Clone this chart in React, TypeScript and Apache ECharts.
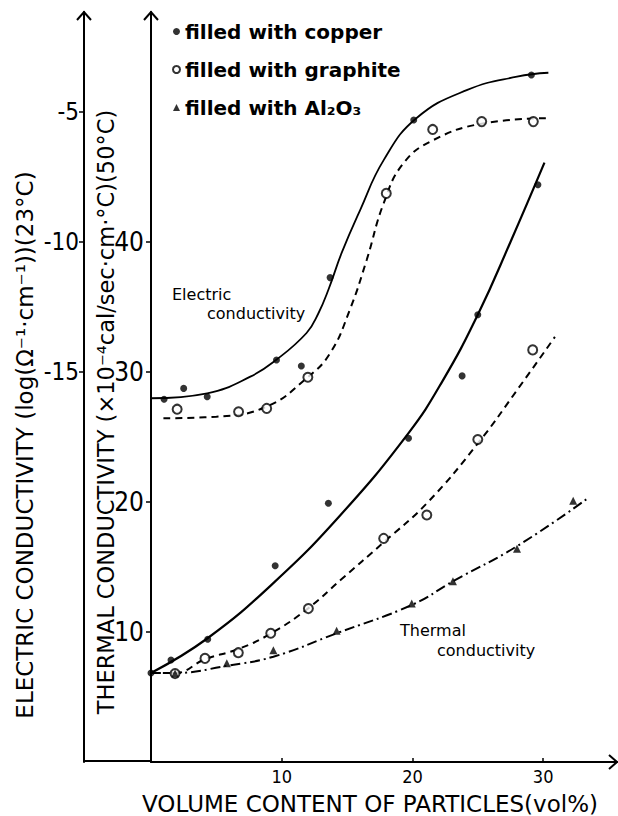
import React, { useEffect, useRef } from 'react';
import * as echarts from 'echarts';

// ---- tick labels ----
const xTicks = [10, 20, 30];
const thermalTicks = [10, 20, 30, 40];
const electricTicks = [-15, -10, -5];

// ---- measured points: electric conductivity (log) ----
const copperElecX = [1.0, 2.5, 4.3, 9.6, 11.5, 13.7, 20.1, 29.1];
const copperElecY = [-16.05, -15.63, -15.95, -14.54, -14.77, -11.37, -5.31, -3.58];
const graphiteElecX = [2.0, 6.7, 8.85, 12.0, 18.0, 21.55, 25.3, 29.25];
const graphiteElecY = [-16.43, -16.53, -16.4, -15.2, -8.13, -5.67, -5.37, -5.37];

// ---- measured points: thermal conductivity ----
const copperThermX = [0, 1.53, 4.34, 9.5, 13.57, 19.7, 23.8, 25.0, 29.6];
const copperThermY = [6.85, 7.85, 9.44, 15.1, 19.9, 24.9, 29.7, 34.4, 44.4];
const graphiteThermX = [1.84, 4.13, 6.68, 9.16, 12.04, 17.8, 21.1, 25.0, 29.2];
const graphiteThermY = [6.8, 7.97, 8.41, 9.9, 11.8, 17.2, 19.0, 24.8, 31.7];
const aluminaThermX = [1.84, 5.8, 9.36, 14.2, 19.95, 23.1, 28.0, 32.3];
const aluminaThermY = [6.8, 7.6, 8.6, 10.1, 12.2, 13.9, 16.4, 20.1];

// ---- hand-drawn fit curves ----
const copperElecFitX = [0, 4.3, 7.6, 9.56, 11.9, 12.8, 13.6, 14.6, 16.0, 17.8, 20.3, 24.2, 28.0, 30.4];
const copperElecFitY = [-16.01, -15.82, -15.18, -14.54, -13.5, -12.75, -11.8, -10.4, -8.77, -6.85, -5.24, -4.15, -3.64, -3.49];
const graphiteElecFitX = [0.95, 5.0, 8.85, 11.9, 13.7, 15.2, 16.5, 17.8, 19.3, 21.6, 25.4, 30.3];
const graphiteElecFitY = [-16.78, -16.72, -16.33, -15.24, -14.28, -12.62, -10.69, -8.51, -6.98, -6.08, -5.44, -5.24];
const copperThermFitX = [0, 4.3, 9.4, 14.5, 19.7, 22.3, 25.0, 27.5, 30.1];
const copperThermFitY = [6.85, 9.5, 13.8, 19.0, 25.3, 29.3, 34.4, 40.0, 46.1];
const graphiteThermFitX = [0, 1.84, 4.13, 6.7, 9.2, 12.0, 14.5, 17.8, 21.1, 25.0, 28.0, 30.9];
const graphiteThermFitY = [6.85, 6.85, 7.9, 8.7, 9.9, 11.8, 14.0, 16.9, 19.9, 24.5, 28.6, 32.7];
const aluminaThermFitX = [0, 1.84, 5.8, 9.36, 14.2, 20.0, 23.1, 28.0, 33.3];
const aluminaThermFitY = [6.85, 6.85, 7.4, 8.1, 9.9, 12.1, 13.9, 16.6, 20.2];

const COPPER = 'filled with copper';
const GRAPHITE = 'filled with graphite';
const ALUMINA = 'filled with Al₂O₃';

const pairs = (xs: number[], ys: number[]) => xs.map((x, i) => [x, ys[i]]);

const TICK_FONT = '"Liberation Sans Narrow", "DejaVu Sans Condensed", "Liberation Sans", sans-serif';
const TITLE_FONT = '"DejaVu Sans", sans-serif';

export default function App() {
  const ref = useRef<HTMLDivElement>(null);

  useEffect(() => {
    const chart = echarts.init(ref.current!, null, { renderer: 'svg' });
    const black = '#000';
    const axisLine = { onZero: false, lineStyle: { color: black, width: 2 } };

    const fitLine = (name: string, xs: number[], ys: number[], yAxisIndex: number, type: any, width = 2) => ({
      name,
      type: 'line',
      yAxisIndex,
      data: pairs(xs, ys),
      symbol: 'none',
      smooth: 0.45,
      silent: true,
      z: 1,
      lineStyle: { color: black, width, type },
    });

    chart.setOption({
      animation: false,
      backgroundColor: '#fff',
      textStyle: { fontFamily: TITLE_FONT, color: black },
      grid: { left: 151, top: 12, width: 466, height: 750, outerBoundsMode: 'none' },
      legend: {
        orient: 'vertical',
        left: 172,
        top: 21,
        padding: 0,
        itemWidth: 7,
        itemHeight: 7,
        itemGap: 17,
        selectedMode: false,
        textStyle: { fontFamily: TITLE_FONT, fontSize: 20, fontWeight: 'bold', color: black, lineHeight: 21 },
        data: [
          { name: COPPER, icon: 'circle' },
          { name: GRAPHITE, icon: 'emptyCircle' },
          { name: ALUMINA, icon: 'triangle' },
        ],
      },
      xAxis: {
        type: 'value',
        min: 0,
        max: 35.65,
        interval: 10,
        axisLine,
        axisTick: { inside: true, length: 4, customValues: xTicks, lineStyle: { color: black, width: 1.5 } },
        axisLabel: { customValues: xTicks, color: black, fontSize: 18, lineHeight: 18, fontFamily: TICK_FONT, margin: 5 },
        splitLine: { show: false },
      },
      yAxis: [
        {
          type: 'value',
          position: 'left',
          min: 0,
          max: 57.69,
          interval: 10,
          axisLine,
          axisTick: { length: 5, customValues: thermalTicks, lineStyle: { color: black, width: 1.5 } },
          axisLabel: { customValues: thermalTicks, color: black, fontSize: 26, fontFamily: TICK_FONT, margin: 7 },
          splitLine: { show: false },
        },
        {
          type: 'value',
          position: 'left',
          offset: 67,
          min: -30,
          max: -1.154,
          axisLine,
          axisTick: { length: 5, customValues: electricTicks, lineStyle: { color: black, width: 1.5 } },
          axisLabel: { customValues: electricTicks, color: black, fontSize: 24, fontFamily: TICK_FONT, margin: 5 },
          splitLine: { show: false },
        },
      ],
      series: [
        fitLine('copper electric fit', copperElecFitX, copperElecFitY, 1, 'solid', 1.8),
        fitLine('graphite electric fit', graphiteElecFitX, graphiteElecFitY, 1, [7, 5]),
        fitLine('copper thermal fit', copperThermFitX, copperThermFitY, 0, 'solid', 2.2),
        fitLine('graphite thermal fit', graphiteThermFitX, graphiteThermFitY, 0, [7, 5]),
        fitLine('alumina thermal fit', aluminaThermFitX, aluminaThermFitY, 0, [10, 4, 2, 4]),
        {
          name: COPPER, type: 'scatter', yAxisIndex: 1, data: pairs(copperElecX, copperElecY),
          symbol: 'circle', symbolSize: 7, itemStyle: { color: black }, z: 3,
        },
        {
          name: GRAPHITE, type: 'scatter', yAxisIndex: 1, data: pairs(graphiteElecX, graphiteElecY),
          symbol: 'emptyCircle', symbolSize: 9, itemStyle: { color: black, borderWidth: 2 }, z: 3,
        },
        {
          name: COPPER, type: 'scatter', yAxisIndex: 0, data: pairs(copperThermX, copperThermY),
          symbol: 'circle', symbolSize: 7, itemStyle: { color: black }, z: 3,
        },
        {
          name: GRAPHITE, type: 'scatter', yAxisIndex: 0, data: pairs(graphiteThermX, graphiteThermY),
          symbol: 'emptyCircle', symbolSize: 9, itemStyle: { color: black, borderWidth: 2 }, z: 3,
        },
        {
          name: ALUMINA, type: 'scatter', yAxisIndex: 0, data: pairs(aluminaThermX, aluminaThermY),
          symbol: 'triangle', symbolSize: 8, itemStyle: { color: black }, z: 3,
        },
      ],
      graphic: [
        // axis arrows (open V heads)
        { type: 'polyline', shape: { points: [[77, 20], [84, 12], [91, 20]] }, style: { stroke: black, lineWidth: 2, fill: 'none' } },
        { type: 'polyline', shape: { points: [[144, 20], [151, 12], [158, 20]] }, style: { stroke: black, lineWidth: 2, fill: 'none' } },
        { type: 'polyline', shape: { points: [[609, 755], [617, 762], [609, 769]] }, style: { stroke: black, lineWidth: 2, fill: 'none' } },
        // connector between the two vertical axes
        { type: 'line', shape: { x1: 84, y1: 761, x2: 151, y2: 761 }, style: { stroke: black, lineWidth: 2 } },
        // axis titles
        {
          type: 'text', x: 25, y: 445, rotation: Math.PI / 2,
          style: { text: 'ELECTRIC CONDUCTIVITY (log(Ω⁻¹·cm⁻¹))(23°C)', fontFamily: TITLE_FONT, fontSize: 23, fill: black, align: 'center', verticalAlign: 'middle' },
        },
        {
          type: 'text', x: 106, y: 412, rotation: Math.PI / 2,
          style: { text: 'THERMAL CONDUCTIVITY (×10⁻⁴cal/sec·cm·°C)(50°C)', fontFamily: TITLE_FONT, fontSize: 22.5, fill: black, align: 'center', verticalAlign: 'middle' },
        },
        {
          type: 'text', x: 370, y: 803.5,
          style: { text: 'VOLUME CONTENT OF PARTICLES(vol%)', fontFamily: TITLE_FONT, fontSize: 23, fill: black, align: 'center', verticalAlign: 'middle' },
        },
        // curve annotations
        { type: 'text', x: 172, y: 294, style: { text: 'Electric', fontFamily: TITLE_FONT, fontSize: 16, fill: black, align: 'left', verticalAlign: 'middle' } },
        { type: 'text', x: 207, y: 313, style: { text: 'conductivity', fontFamily: TITLE_FONT, fontSize: 16, fill: black, align: 'left', verticalAlign: 'middle' } },
        { type: 'text', x: 400, y: 630, style: { text: 'Thermal', fontFamily: TITLE_FONT, fontSize: 16, fill: black, align: 'left', verticalAlign: 'middle' } },
        { type: 'text', x: 437, y: 650, style: { text: 'conductivity', fontFamily: TITLE_FONT, fontSize: 16, fill: black, align: 'left', verticalAlign: 'middle' } },
      ],
    });

    return () => chart.dispose();
  }, []);

  return (
    <div
      ref={ref}
      style={{ position: 'absolute', left: 0, top: 0, width: 618, height: 816, background: '#fff' }}
    />
  );
}
